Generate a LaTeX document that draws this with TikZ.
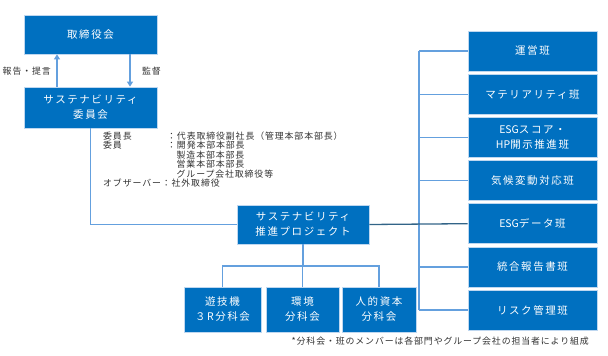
\documentclass[tikz,border=0pt]{standalone}
\usepackage{fontspec}
\setmainfont{Noto Sans CJK JP}
\newfontfamily\boxfont[LetterSpace=15]{Noto Sans CJK JP}
\newfontfamily\nolsfont{Noto Sans CJK JP}
\newfontfamily\smallfont[LetterSpace=10]{Noto Sans CJK JP}
\usetikzlibrary{arrows.meta}
\definecolor{boxblue}{RGB}{0,112,192}
\definecolor{lineblue}{RGB}{100,160,222}
\definecolor{darkline}{RGB}{50,100,135}
\definecolor{edgeblue}{RGB}{190,215,240}
\definecolor{txtgray}{RGB}{50,50,50}
\tikzset{
  box/.style={draw=edgeblue, line width=0.7pt, fill=boxblue, text=white, align=center,
    font=\boxfont\fontsize{10.5}{15}\selectfont, inner sep=0pt},
  conn/.style={draw=lineblue, line width=1.3pt},
  darkconn/.style={draw=darkline, line width=1.3pt},
  arr/.style={draw=lineblue, line width=1.3pt, -{Triangle[length=5pt,width=6pt]}},
  small/.style={font=\smallfont\fontsize{8.9}{10}\selectfont, text=txtgray, inner sep=0pt},
}
\begin{document}
\begin{tikzpicture}[x=1pt,y=-1pt]
\useasboundingbox (0,0) rectangle (608,356);
% left column
\node[box, minimum width=133pt, minimum height=39pt] (board) at (90.5,34.5) {取締役会};
\node[box, minimum width=133pt, minimum height=41pt] (comm) at (90.5,107.5) {サステナビリティ\\委員会};
\coordinate (ux) at (57,0);
\coordinate (dx) at (130,0);
\draw[arr] (comm.north -| ux) -- (board.south -| ux);
\draw[arr] (board.south -| dx) -- (comm.north -| dx);
\node[small, anchor=east] (lrep) at (51,71) {報告・提言};
\node[small, anchor=west] (lsup) at (142,71) {監督};
% members text
\node[small, anchor=west] (m1a) at (103,136) {委員長};
\node[small, anchor=west] (m1b) at (167,136) {：代表取締役副社長（管理本部本部長）};
\node[small, anchor=west] (m2a) at (103,145.5) {委員};
\node[small, anchor=west] (m2b) at (167,145.5) {：開発本部本部長};
\node[small, anchor=west] (m3) at (176.5,155) {製造本部本部長};
\node[small, anchor=west] (m4) at (176.5,164.5) {営業本部本部長};
\node[small, anchor=west] (m5) at (176.5,174) {グループ会社取締役等};
\node[small, anchor=west] (m6) at (103,183.5) {オブザーバー：社外取締役};
% project
\node[box, minimum width=132pt, minimum height=39pt] (proj) at (303,224.5) {サステナビリティ\\推進プロジェクト};
\draw[conn] (comm.south) |- (proj.west);
% sub committees
\node[box, minimum width=77pt, minimum height=45pt] (s1) at (222.5,309.5) {遊技機\\３R分科会};
\node[box, minimum width=73pt, minimum height=45pt] (s2) at (302.5,309.5) {環境\\分科会};
\node[box, minimum width=74pt, minimum height=45pt] (s3) at (379,309.5) {人的資本\\分科会};
\coordinate (sj) at (303,266);
\draw[conn] (proj.south) -- (proj.south |- sj);
\draw[conn] (s1.north) -- (s1.north |- sj) -- (s3.north |- sj) -- (s3.north);
\draw[conn] (s2.north) -- (s2.north |- sj);
% right column
\foreach \i/\t in {1/運営班, 2/マテリアリティ班, 3/{{\nolsfont ESG}スコア・\\{\nolsfont HP}開示推進班}, 4/気候変動対応班, 5/{{\nolsfont ESG}データ班}, 6/統合報告書班, 7/リスク管理班}{
  \node[box, minimum width=129pt, minimum height=40pt] (r\i) at (532.5,{51+43.17*(\i-1)}) {\t};
}
\coordinate (bx) at (419,0);
\draw[conn] (r1.west -| bx) -- (r7.west -| bx);
\foreach \i in {1,2,3,4,6,7}{
  \draw[conn] (r\i.west -| bx) -- (r\i.west);
}
\draw[darkconn] (proj.east) -- (r5.west);
% footnote
\node[small, anchor=east] (foot) at (589,341) {*分科会・班のメンバーは各部門やグループ会社の担当者により組成};
\end{tikzpicture}
\end{document}
